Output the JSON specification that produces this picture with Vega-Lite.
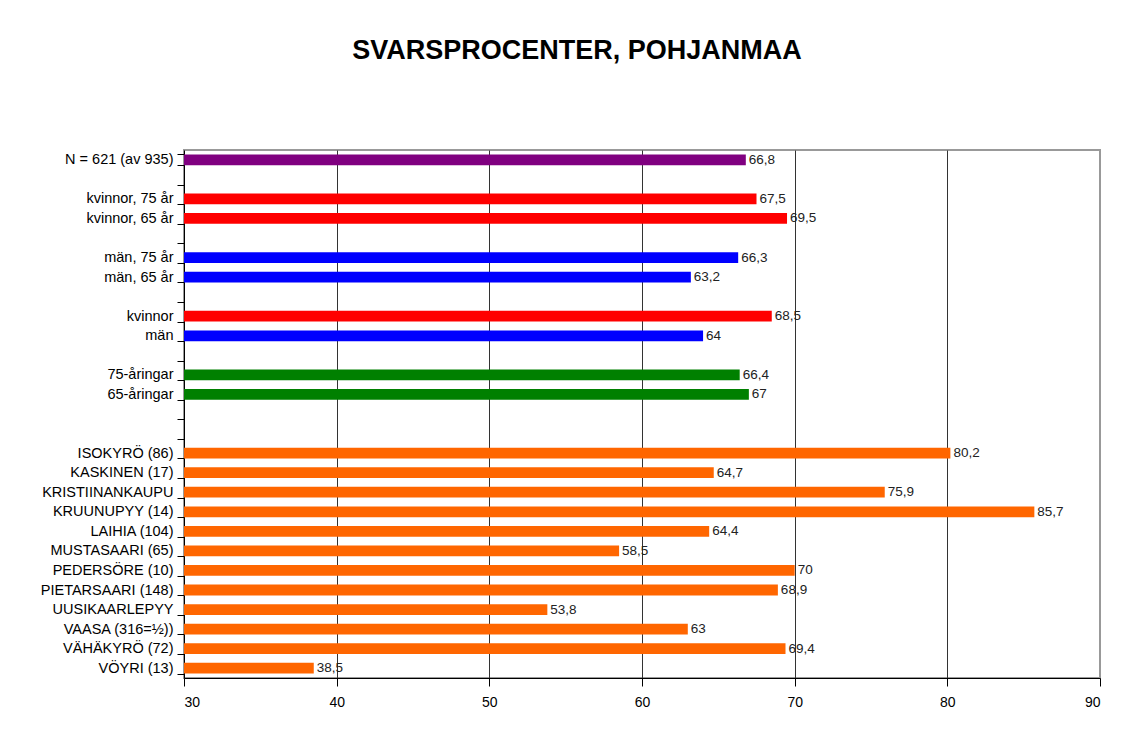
{
  "$schema": "https://vega.github.io/schema/vega-lite/v6.json",
  "autosize": "none",
  "padding": {"left": 184, "top": 150, "right": 28, "bottom": 78},
  "width": 916,
  "height": 528,
  "background": "white",
  "title": {
    "text": "SVARSPROCENTER, POHJANMAA",
    "font": "Liberation Sans",
    "fontSize": 27,
    "fontWeight": "bold",
    "color": "black",
    "anchor": "middle",
    "baseline": "alphabetic",
    "dx": -65,
    "offset": 56
  },
  "config": {
    "locale": {"number": {"decimal": ",", "thousands": " ", "grouping": [3], "currency": ["", " €"]}},
    "font": "Liberation Sans",
    "view": {"stroke": "#999999", "strokeWidth": 2}
  },
  "data": {
    "values": [
      {"label": "N = 621 (av 935)", "group": "totalt", "value": 66.8},
      {"label": "kvinnor, 75 år", "group": "kvinnor", "value": 67.5},
      {"label": "kvinnor, 65 år", "group": "kvinnor", "value": 69.5},
      {"label": "män, 75 år", "group": "män", "value": 66.3},
      {"label": "män, 65 år", "group": "män", "value": 63.2},
      {"label": "kvinnor", "group": "kvinnor", "value": 68.5},
      {"label": "män", "group": "män", "value": 64},
      {"label": "75-åringar", "group": "ålder", "value": 66.4},
      {"label": "65-åringar", "group": "ålder", "value": 67},
      {"label": "ISOKYRÖ (86)", "group": "kommun", "value": 80.2},
      {"label": "KASKINEN (17)", "group": "kommun", "value": 64.7},
      {"label": "KRISTIINANKAUPU", "group": "kommun", "value": 75.9},
      {"label": "KRUUNUPYY (14)", "group": "kommun", "value": 85.7},
      {"label": "LAIHIA (104)", "group": "kommun", "value": 64.4},
      {"label": "MUSTASAARI (65)", "group": "kommun", "value": 58.5},
      {"label": "PEDERSÖRE (10)", "group": "kommun", "value": 70},
      {"label": "PIETARSAARI (148)", "group": "kommun", "value": 68.9},
      {"label": "UUSIKAARLEPYY", "group": "kommun", "value": 53.8},
      {"label": "VAASA (316=½))", "group": "kommun", "value": 63},
      {"label": "VÄHÄKYRÖ (72)", "group": "kommun", "value": 69.4},
      {"label": "VÖYRI (13)", "group": "kommun", "value": 38.5}
    ]
  },
  "encoding": {
    "y": {
      "field": "label",
      "type": "nominal",
      "sort": null,
      "scale": {
        "domain": ["N = 621 (av 935)", " ", "kvinnor, 75 år", "kvinnor, 65 år", "  ", "män, 75 år", "män, 65 år", "   ", "kvinnor", "män", "    ", "75-åringar", "65-åringar", "     ", "      ", "ISOKYRÖ (86)", "KASKINEN (17)", "KRISTIINANKAUPU", "KRUUNUPYY (14)", "LAIHIA (104)", "MUSTASAARI (65)", "PEDERSÖRE (10)", "PIETARSAARI (148)", "UUSIKAARLEPYY", "VAASA (316=½))", "VÄHÄKYRÖ (72)", "VÖYRI (13)"],
        "paddingInner": 0.45,
        "paddingOuter": 0.225
      },
      "axis": {
        "title": null,
        "tickBand": "extent",
        "tickSize": 7,
        "tickColor": "black",
        "domainColor": "black",
        "labelPadding": 4,
        "labelFontSize": 14.5,
        "labelColor": "black",
        "labelFont": "Liberation Sans",
        "grid": false
      }
    }
  },
  "layer": [
    {
      "mark": {"type": "bar"},
      "encoding": {
        "x": {
          "field": "value",
          "type": "quantitative",
          "scale": {"domain": [30, 90], "zero": false, "nice": false},
          "axis": {
            "title": null,
            "values": [30, 40, 50, 60, 70, 80, 90],
            "format": "d",
            "grid": true,
            "gridColor": {"condition": {"test": "datum.value == 90 || datum.value == 30", "value": "#999999"}, "value": "#333333"},
            "gridWidth": 1,
            "tickSize": 8,
            "tickColor": "black",
            "domainColor": "black",
            "labelFontSize": 14,
            "labelColor": "black",
            "labelPadding": 9,
            "labelFont": "Liberation Sans"
          }
        },
        "x2": {"datum": 30},
        "color": {
          "field": "group",
          "type": "nominal",
          "legend": null,
          "scale": {
            "domain": ["totalt", "kvinnor", "män", "ålder", "kommun"],
            "range": ["#800080", "#FF0000", "#0000FF", "#008000", "#FF6600"]
          }
        }
      }
    },
    {
      "mark": {"type": "text", "align": "left", "baseline": "middle", "dx": 3, "fontSize": 13.5, "color": "#222222", "font": "Liberation Sans"},
      "encoding": {
        "x": {"field": "value", "type": "quantitative"},
        "text": {"field": "value", "type": "quantitative", "format": "~r"}
      }
    }
  ]
}
